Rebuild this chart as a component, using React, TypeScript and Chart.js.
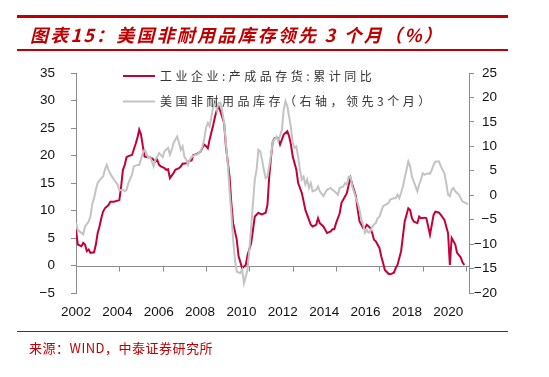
import React, { useEffect, useRef } from 'react';
import { Chart, registerables } from 'chart.js';

Chart.register(...registerables);

const titleText = '图表15：美国非耐用品库存领先 3 个月（%）';
const sourceText = '来源：WIND，中泰证券研究所';
const redLabel = '工业企业:产成品存货:累计同比';
const grayLabel = '美国非耐用品库存（右轴，领先3个月）';

const yearTicks = [2002, 2004, 2006, 2008, 2010, 2012, 2014, 2016, 2018, 2020];
const leftMin = -5;
const leftMax = 35;
const rightMin = -20;
const rightMax = 25;
const tickStep = 5;

const redDates = [
  '2002-01', '2002-02', '2002-04', '2002-05', '2002-06', '2002-07', '2002-08', '2002-09', '2002-11', '2002-12',
  '2003-01', '2003-02', '2003-03', '2003-04', '2003-05', '2003-07', '2003-08', '2003-10', '2003-12',
  '2004-01', '2004-02', '2004-03', '2004-04', '2004-05', '2004-06', '2004-08', '2004-09', '2004-10', '2004-11', '2004-12',
  '2005-01', '2005-02', '2005-03', '2005-05', '2005-07', '2005-09', '2005-10', '2005-11', '2005-12',
  '2006-02', '2006-03', '2006-04', '2006-05', '2006-07', '2006-08', '2006-10', '2006-11', '2006-12',
  '2007-02', '2007-03', '2007-05', '2007-06', '2007-08', '2007-10', '2007-11', '2007-12',
  '2008-01', '2008-02', '2008-03', '2008-05', '2008-06', '2008-07', '2008-08', '2008-09', '2008-11', '2008-12',
  '2009-02', '2009-03', '2009-04', '2009-06', '2009-07', '2009-09', '2009-10', '2009-11', '2009-12',
  '2010-02', '2010-03', '2010-04', '2010-06', '2010-07', '2010-08', '2010-10', '2010-11', '2010-12',
  '2011-01', '2011-02', '2011-03', '2011-05', '2011-06', '2011-07', '2011-08', '2011-10', '2011-11', '2011-12',
  '2012-01', '2012-03', '2012-04', '2012-06', '2012-07', '2012-08', '2012-10', '2012-11', '2012-12',
  '2013-02', '2013-03', '2013-04', '2013-06', '2013-07', '2013-08', '2013-10', '2013-11', '2013-12',
  '2014-01', '2014-03', '2014-04', '2014-06', '2014-07', '2014-08', '2014-09', '2014-10', '2014-12',
  '2015-01', '2015-02', '2015-04', '2015-05', '2015-06', '2015-08', '2015-09', '2015-10', '2015-11',
  '2016-01', '2016-02', '2016-03', '2016-04', '2016-06', '2016-07', '2016-09', '2016-10', '2016-11',
  '2017-01', '2017-02', '2017-03', '2017-05', '2017-06', '2017-07', '2017-08', '2017-10', '2017-11', '2017-12',
  '2018-02', '2018-03', '2018-05', '2018-06', '2018-07', '2018-08', '2018-10', '2018-11',
  '2019-01', '2019-02', '2019-03', '2019-04', '2019-05', '2019-06', '2019-07', '2019-08', '2019-10', '2019-11', '2019-12',
];
const redValues = [
  6.5, 3.8, 3.5, 4.1, 3.8, 2.6, 2.9, 2.3, 2.4, 3.8,
  5.9, 7.1, 8.6, 9.8, 10.4, 11.0, 11.6, 11.6, 11.8,
  11.9, 14.4, 17.4, 18.3, 19.7, 19.9, 20.1, 21.1, 22.1, 23.2, 24.7,
  23.8, 21.7, 19.8, 19.7, 19.5, 18.9, 19.2, 18.3, 18.0,
  17.7, 17.4, 17.5, 15.9, 16.8, 17.4, 17.7, 18.0, 18.5,
  18.6, 18.9, 19.1, 20.1, 20.3, 20.7, 21.4, 22.0,
  21.7, 21.3, 22.9, 25.6, 27.1, 28.3, 28.9, 28.0, 25.9, 21.7,
  16.2, 11.4, 7.7, 4.7, 1.7, -0.5, -0.2, 0.1, 1.9,
  4.1, 6.5, 8.9, 9.6, 9.4, 9.3, 9.6, 11.0, 16.2,
  19.8, 22.6, 23.2, 23.2, 22.0, 22.9, 23.8, 24.4, 23.5, 22.0,
  19.8, 17.4, 15.0, 13.2, 11.7, 10.1, 8.3, 7.4, 7.1,
  7.4, 8.6, 7.7, 7.1, 6.5, 5.9, 6.2, 6.6, 6.6,
  7.7, 9.5, 11.4, 12.6, 13.2, 14.7, 15.9, 14.7, 12.6,
  10.1, 8.0, 6.8, 6.8, 7.4, 6.8, 5.9, 4.7, 4.4,
  3.2, 1.7, 0.5, -0.8, -1.5, -1.6, -1.3, -0.5, 0.1,
  2.6, 5.3, 8.0, 10.4, 10.1, 8.6, 8.0, 7.7, 8.9, 8.6,
  8.7, 8.6, 5.6, 7.4, 9.2, 9.8, 9.6, 9.2,
  8.3, 7.1, 5.9, 0.1, 5.0, 4.4, 3.8, 2.3, 1.5, 0.6, 0.1,
];

const grayDates = [
  '2002-01', '2002-02', '2002-04', '2002-05', '2002-06', '2002-08', '2002-09', '2002-10', '2002-11', '2002-12',
  '2003-01', '2003-03', '2003-04', '2003-05', '2003-06', '2003-07', '2003-08', '2003-09', '2003-10', '2003-12',
  '2004-01', '2004-03', '2004-04', '2004-05', '2004-06', '2004-08', '2004-09', '2004-11', '2004-12',
  '2005-02', '2005-03', '2005-04', '2005-05', '2005-06', '2005-08', '2005-09', '2005-10', '2005-11',
  '2006-01', '2006-02', '2006-04', '2006-05', '2006-06', '2006-07', '2006-09', '2006-10', '2006-11', '2006-12',
  '2007-01', '2007-02', '2007-03', '2007-04', '2007-05', '2007-07', '2007-08', '2007-10', '2007-11', '2007-12',
  '2008-01', '2008-02', '2008-03', '2008-04', '2008-05', '2008-06', '2008-07', '2008-08', '2008-09', '2008-10', '2008-11', '2008-12',
  '2009-01', '2009-02', '2009-03', '2009-04', '2009-05', '2009-06', '2009-07', '2009-08', '2009-09', '2009-10', '2009-11', '2009-12',
  '2010-01', '2010-02', '2010-03', '2010-04', '2010-05', '2010-06', '2010-07', '2010-08', '2010-09', '2010-10', '2010-11', '2010-12',
  '2011-01', '2011-02', '2011-04', '2011-05', '2011-07', '2011-08', '2011-09', '2011-10', '2011-11', '2011-12',
  '2012-01', '2012-02', '2012-03', '2012-04', '2012-05', '2012-06', '2012-07', '2012-08', '2012-09', '2012-10', '2012-11', '2012-12',
  '2013-02', '2013-03', '2013-04', '2013-06', '2013-07', '2013-08', '2013-10', '2013-11',
  '2014-01', '2014-02', '2014-03', '2014-05', '2014-06', '2014-07', '2014-08', '2014-09', '2014-10', '2014-12',
  '2015-01', '2015-02', '2015-03', '2015-04', '2015-05', '2015-06', '2015-07', '2015-08', '2015-09', '2015-10', '2015-11', '2015-12',
  '2016-01', '2016-02', '2016-03', '2016-04', '2016-06', '2016-07', '2016-09', '2016-10', '2016-11', '2016-12',
  '2017-01', '2017-02', '2017-04', '2017-05', '2017-06', '2017-07', '2017-09', '2017-10', '2017-11', '2017-12',
  '2018-01', '2018-02', '2018-04', '2018-05', '2018-06', '2018-07', '2018-08', '2018-10', '2018-11',
  '2019-01', '2019-02', '2019-03', '2019-04', '2019-05', '2019-06', '2019-07', '2019-09', '2019-10', '2019-11',
  '2020-01', '2020-02',
];
const grayValues = [
  -5.7, -7.1, -7.7, -8.0, -6.4, -5.4, -4.3, -1.8, -0.6, 1.1,
  2.5, 3.5, 3.8, 5.2, 6.2, 5.2, 4.4, 3.8, 3.2, 2.2,
  1.0, 1.1, 0.8, 1.1, 2.5, 4.2, 5.9, 6.2, 6.2,
  8.6, 9.3, 8.6, 7.6, 7.9, 5.9, 7.3, 7.9, 8.6,
  7.8, 9.0, 9.7, 8.3, 9.3, 10.7, 12.0, 10.8, 9.3, 10.0,
  7.9, 7.3, 6.2, 7.3, 7.8, 8.3, 8.3, 9.0, 10.0, 11.5,
  13.8, 14.8, 14.1, 16.1, 18.2, 19.2, 17.5, 18.9, 18.9, 17.1, 14.8, 10.7,
  6.6, 1.1, -3.6, -9.1, -13.2, -15.6, -15.8, -15.9, -15.2, -18.0, -16.6, -15.2,
  -11.1, -6.4, -1.6, 3.2, 5.2, 9.3, 9.0, 7.3, 5.2, 3.5, 3.8, 5.9,
  8.3, 11.0, 12.0, 11.0, 13.4, 17.5, 19.2, 18.2, 16.1, 13.8,
  10.7, 9.7, 10.0, 7.9, 5.2, 3.2, 3.8, 2.2, 3.2, 1.5, 2.5, 0.8,
  1.1, 1.8, 0.8, -0.2, 0.5, 1.1, 1.5, 1.1,
  0.5, 0.1, 1.5, 1.8, 2.5, 2.2, 3.8, 3.8, 1.8, -0.6,
  -1.6, -3.0, -5.0, -6.0, -7.7, -7.1, -7.7, -7.4, -6.4, -6.0, -5.7, -4.7,
  -4.4, -3.3, -2.3, -2.0, -1.6, -0.9, -0.6, -0.6, 0.1, -0.6,
  0.5, 1.8, 5.2, 6.9, 5.9, 3.8, 1.8, 0.8, 2.2, 3.2,
  4.5, 4.2, 4.5, 4.4, 5.2, 6.2, 6.9, 6.9, 5.9,
  4.5, 2.5, 0.1, -0.2, 1.1, 1.5, 0.8, 0.1, -0.6, -1.3,
  -1.6, -1.9,
];

const RED = '#C4003A';
const GRAY = '#C3C3C3';
const AXIS = '#8C8C8C';
const DARKRED = '#C00000';
const CJK = '"Noto Sans CJK SC", "Noto Sans", sans-serif';
const LATIN = '"Liberation Sans", Arial, sans-serif';

const startYear = yearTicks[0];
const monthIndex = (d: string) => {
  const [y, m] = d.split('-').map(Number);
  return (y - startYear) * 12 + (m - 1);
};
const fmt = (v: number | string) => String(v).replace('-', '\u2212');

export default function App() {
  const ref = useRef<HTMLCanvasElement>(null);

  useEffect(() => {
    const canvas = ref.current;
    if (!canvas) return;

    const zeroAxisPlugin = {
      id: 'zeroAxis',
      beforeDatasetsDraw(chart: any) {
        const { ctx, chartArea, scales } = chart;
        const y0 = Math.round(scales.y.getPixelForValue(0)) + 0.5;
        ctx.save();
        ctx.strokeStyle = AXIS;
        ctx.lineWidth = 1;
        ctx.beginPath();
        ctx.moveTo(chartArea.left, y0);
        ctx.lineTo(chartArea.right, y0);
        for (const yr of yearTicks) {
          const x = Math.round(scales.x.getPixelForValue((yr - startYear) * 12)) + 0.5;
          ctx.moveTo(x, y0);
          ctx.lineTo(x, y0 + 5);
        }
        ctx.stroke();
        ctx.restore();
      },
    };

    const legendPlugin = {
      id: 'legendRows',
      afterDraw(chart: any) {
        const { ctx } = chart;
        const rows = [
          { label: redLabel, color: RED, y: 76 },
          { label: grayLabel, color: GRAY, y: 101.5 },
        ];
        ctx.save();
        for (const r of rows) {
          ctx.strokeStyle = r.color;
          ctx.lineWidth = 2;
          ctx.beginPath();
          ctx.moveTo(123, r.y);
          ctx.lineTo(155, r.y);
          ctx.stroke();
          ctx.font = `12px ${CJK}`;
          (ctx as any).letterSpacing = '3.5px';
          ctx.fillStyle = '#333333';
          ctx.textAlign = 'left';
          ctx.textBaseline = 'middle';
          ctx.fillText(r.label, 160, r.y);
        }
        ctx.restore();
      },
    };

    const tickFont = { family: LATIN, size: 13.5 };

    const chart = new Chart(canvas, {
      type: 'line',
      data: {
        datasets: [
          {
            label: grayLabel,
            data: grayDates.map((d, i) => ({ x: monthIndex(d), y: grayValues[i] })),
            xAxisID: 'x',
            yAxisID: 'y1',
            borderColor: GRAY,
            borderWidth: 2,
            pointRadius: 0,
            tension: 0,
            order: 0,
          },
          {
            label: redLabel,
            data: redDates.map((d, i) => ({ x: monthIndex(d), y: redValues[i] })),
            xAxisID: 'x',
            yAxisID: 'y',
            borderColor: RED,
            borderWidth: 2,
            pointRadius: 0,
            tension: 0,
            order: 1,
          },
        ],
      },
      options: {
        animation: false,
        responsive: false,
        devicePixelRatio: 1,
        layout: { padding: { top: 73, right: 52, bottom: 54, left: 0 } },
        plugins: { legend: { display: false }, tooltip: { enabled: false } },
        scales: {
          x: { type: 'linear', min: 0, max: 217.6, display: false },
          x2: {
            type: 'linear',
            position: 'bottom',
            min: 2002,
            max: 2021,
            grid: { display: false },
            border: { display: false },
            ticks: { font: tickFont, color: '#111111', padding: 3, maxRotation: 0, autoSkip: false, callback: (v: any) => String(v) },
            afterBuildTicks: (s: any) => {
              s.ticks = yearTicks.map((value) => ({ value }));
            },
            afterFit: (s: any) => {
              s.height = 30;
            },
          },
          y: {
            type: 'linear',
            position: 'left',
            min: leftMin,
            max: leftMax,
            ticks: { stepSize: tickStep, font: tickFont, color: '#111111', padding: 16, callback: (v: any) => fmt(v) },
            grid: { drawOnChartArea: false, tickLength: 5, color: AXIS },
            border: { color: AXIS },
            afterFit: (s: any) => {
              s.width = 76;
            },
          },
          y1: {
            type: 'linear',
            position: 'right',
            min: rightMin,
            max: rightMax,
            ticks: { stepSize: tickStep, font: tickFont, color: '#111111', padding: 6, crossAlign: 'far', callback: (v: any) => fmt(v) },
            grid: { drawOnChartArea: false, tickLength: 5, color: AXIS },
            border: { color: AXIS },
            afterFit: (s: any) => {
              s.width = 28;
            },
          },
        },
      } as any,
      plugins: [zeroAxisPlugin, legendPlugin],
    });

    return () => chart.destroy();
  }, []);

  return (
    <div style={{ position: 'fixed', left: 0, top: 0, width: 549, height: 377, background: '#ffffff', overflow: 'hidden' }}>
      <canvas ref={ref} width={549} height={377} style={{ position: 'absolute', left: 0, top: 0, width: 549, height: 377 }} />
      <div style={{ position: 'absolute', left: 17, top: 15, width: 491, height: 3, background: DARKRED }} />
      <div
        style={{
          position: 'absolute',
          left: 30,
          top: 23,
          height: 22,
          lineHeight: '22px',
          fontFamily: CJK,
          fontSize: 18,
          fontWeight: 'bold',
          fontStyle: 'italic',
          letterSpacing: '2.2px',
          color: DARKRED,
          whiteSpace: 'nowrap',
        }}
      >
        {titleText}
      </div>
      <div style={{ position: 'absolute', left: 17, top: 49, width: 491, height: 1.5, background: DARKRED }} />
      <div style={{ position: 'absolute', left: 17, top: 331, width: 491, height: 1, background: DARKRED }} />
      <div
        style={{
          position: 'absolute',
          left: 29,
          top: 339,
          height: 18,
          lineHeight: '18px',
          fontFamily: CJK,
          fontSize: 13,
          letterSpacing: '0.5px',
          color: DARKRED,
          whiteSpace: 'nowrap',
        }}
      >
        {sourceText}
      </div>
    </div>
  );
}
